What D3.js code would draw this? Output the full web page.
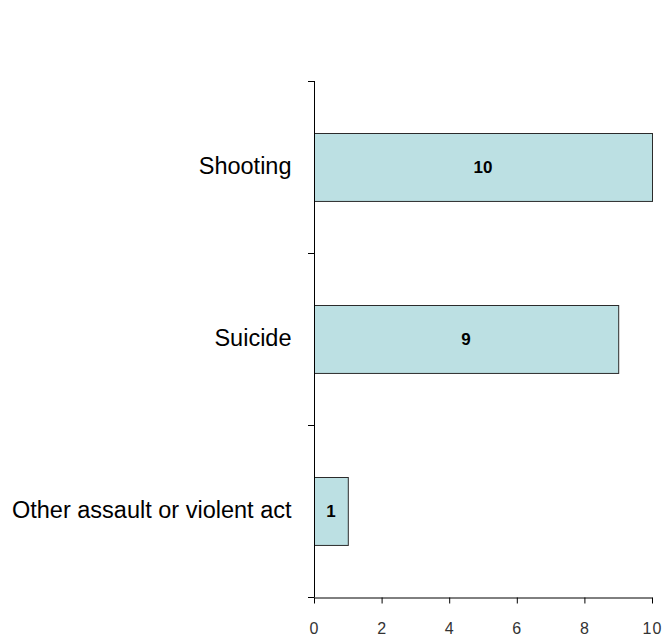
<!DOCTYPE html>
<html><head><meta charset="utf-8">
<script src="https://cdn.jsdelivr.net/npm/d3@7"></script>
<style>body{margin:0;background:#fff;}svg{display:block;}</style>
</head><body>
<svg id="chart" width="664" height="643"></svg>
<script>
const categories = ["Shooting", "Suicide", "Other assault or violent act"];
const values = [10, 9, 1];
const xTicks = [0, 2, 4, 6, 8, 10];

(function () {
const svg = d3.select("#chart");
const mLeft = 314, mRight = 652, mTop = 81, mBottom = 597;

const x = d3.scaleLinear().domain([0, 10]).range([mLeft, mRight]);
const y = d3.scaleBand().domain(categories).range([mTop, mBottom]).paddingInner(0).paddingOuter(0);
const barH = y.bandwidth() * 0.395;

// bars
svg.selectAll("rect.bar").data(categories).enter().append("rect")
  .attr("class", "bar")
  .attr("x", x(0) + 0.5)
  .attr("y", d => Math.round(y(d) + (y.bandwidth() - barH) / 2) + 0.5)
  .attr("width", (d, i) => x(values[i]) - x(0))
  .attr("height", barH)
  .attr("fill", "#bce0e3")
  .attr("stroke", "#2b2b2b")
  .attr("stroke-width", 1);

// value labels
svg.selectAll("text.val").data(categories).enter().append("text")
  .attr("x", (d, i) => (x(0) + x(values[i])) / 2)
  .attr("y", d => y(d) + y.bandwidth() / 2)
  .attr("dy", "0.35em")
  .attr("text-anchor", "middle")
  .attr("font-family", "Liberation Sans, Arial, sans-serif")
  .attr("font-weight", "bold")
  .attr("font-size", 17)
  .attr("fill", "#000")
  .text((d, i) => values[i]);

// y axis
const yAxis = d3.axisLeft(y).tickSize(0).tickPadding(23);
const yg = svg.append("g").attr("transform", `translate(${mLeft + 0.5},0)`).call(yAxis);
yg.select(".domain").attr("stroke", "#000").attr("d", `M0,${mTop}V${mBottom}`);
yg.selectAll("text").attr("font-family", "Liberation Sans, Arial, sans-serif")
  .attr("font-size", 23.5).attr("fill", "#000").attr("dy", "0.3em");
// category boundary ticks
const bounds = categories.map(c => y(c)).concat([mBottom]);
svg.append("g").selectAll("line").data(bounds).enter().append("line")
  .attr("x1", mLeft - 6).attr("x2", mLeft + 0.5)
  .attr("y1", d => Math.round(d) + 0.5).attr("y2", d => Math.round(d) + 0.5)
  .attr("stroke", "#000");

// x axis
const xAxis = d3.axisBottom(x).tickValues(xTicks).tickSize(6).tickPadding(19).tickSizeOuter(0);
const xg = svg.append("g").attr("transform", `translate(0,${mBottom + 0.5})`).call(xAxis);
xg.select(".domain").attr("stroke", "#000");
xg.selectAll(".tick line").attr("stroke", "#000");
xg.selectAll("text").attr("font-family", "Liberation Sans, Arial, sans-serif")
  .attr("font-size", 16).attr("fill", "#333").attr("letter-spacing", "1px");
})();
</script>
</body></html>
